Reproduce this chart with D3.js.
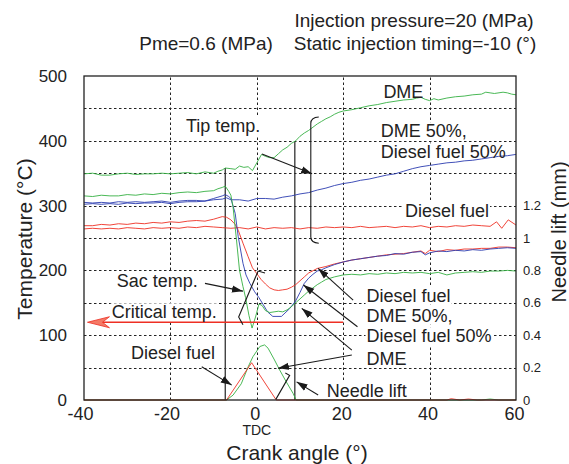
<!DOCTYPE html>
<html>
<head>
<meta charset="utf-8">
<script src="https://cdn.jsdelivr.net/npm/d3@7"></script>
<style>
  body { margin: 0; background: #fff; }
  svg { display: block; font-family: "Liberation Sans", Arial, Helvetica, sans-serif; }
</style>
</head>
<body>
<svg id="chart" width="569" height="464"></svg>
<script>
// Temperatures (°C) against crank angle (°)
const dmeTip = [[-40,349],[-38,350],[-36,347],[-34,347],[-32,349],[-30,350],[-28,348],[-26,349],[-24,349],[-22,350],[-20,349],[-18,350],[-16,351],[-14,349],[-12,352],[-10,350],[-9,353],[-8,355],[-7.3,358],[-6,357],[-5,356],[-4,361],[-3,359],[-2,360],[-1,354],[0,366],[1.1,379],[2,376],[3,374],[4,374],[5,380],[6,386],[7,390],[8,396],[9,400],[10,407],[11,412],[12,416],[13,421],[14,426],[15,430],[16,434],[17,437],[18,441],[19,444],[20,446],[22,448],[24,451],[26,454],[28,456],[30,459],[32,461],[34,463],[36,464],[37,466],[38,467],[39,464],[40,462],[41,465],[42,463],[44,466],[46,468],[48,469],[50,471],[52,472],[53,475],[54,474],[55,473],[57,475],[58,474],[59,472],[60,471]];
const dmeSac = [[-40,315],[-38,314],[-36,316],[-34,315],[-32,315],[-30,317],[-28,316],[-26,318],[-24,317],[-22,319],[-20,318],[-18,320],[-16,321],[-14,320],[-12,322],[-10,323],[-9,326],[-8,328],[-7.3,330],[-6.5,322],[-6,316],[-5.5,298],[-4.7,247],[-4,200],[-3.2,175],[-2.6,158],[-1.8,130],[-1.1,111],[-0.3,128],[0.5,148],[1.2,146],[2,138],[3,135],[4,136],[5,137],[6,136],[7,139],[8,144],[9,150],[10,156],[11,162],[12,168],[13,173],[14,178],[15,182],[16,186],[17,188],[18,190],[20,193],[22,194],[24,193],[26,195],[28,194],[30,196],[32,195],[34,197],[36,196],[38,197],[40,195],[42,197],[44,193],[46,196],[48,197],[50,198],[52,197],[54,199],[56,199],[58,200],[60,199]];
const mixTip = [[-40,305],[-38,304],[-36,305],[-34,304],[-32,306],[-30,305],[-28,306],[-26,305],[-24,306],[-22,307],[-20,305],[-18,307],[-16,308],[-14,308],[-12,307],[-10,309],[-8,310],[-7,312],[-6,309],[-4,309],[-2,307],[0,311],[2,311],[4,310],[6,313],[8,315],[10,318],[12,320],[14,324],[16,327],[18,331],[20,334],[22,336],[24,339],[26,341],[28,344],[30,347],[32,349],[34,353],[36,357],[38,360],[40,362],[42,364],[44,366],[46,367],[48,369],[50,370],[52,372],[54,374],[56,376],[58,377],[60,379]];
const mixSac = [[-40,302],[-38,303],[-36,302],[-34,303],[-32,302],[-30,304],[-28,303],[-26,304],[-24,304],[-22,305],[-20,303],[-18,305],[-16,306],[-14,306],[-12,307],[-10,311],[-9,313],[-8,315],[-7.3,317],[-6.5,314],[-6,311],[-5,288],[-4.3,252],[-3.2,211],[-2.5,193],[-1.6,180],[-0.5,167],[0.5,158],[1.5,147],[2.5,136],[3.7,129],[5.7,129],[7.6,141],[9,153],[10,166],[11,180],[12,188],[13,194],[14,199],[15,201],[16,204],[18,209],[20,213],[22,216],[24,218],[26,220],[28,222],[30,223],[32,226],[34,225],[36,228],[38,229],[39,224],[40,227],[42,230],[44,229],[46,231],[48,230],[50,232],[52,231],[54,233],[56,234],[58,235],[60,234]];
const dieselTip = [[-40,264],[-38,265],[-36,264],[-34,265],[-32,264],[-30,266],[-28,265],[-26,264],[-24,266],[-22,265],[-20,266],[-18,265],[-16,267],[-14,266],[-12,268],[-10,267],[-8,266],[-6,265],[-4,266],[-2,264],[0,267],[2,264],[4,266],[6,265],[8,266],[10,264],[12,266],[14,265],[16,267],[18,266],[20,267],[22,266],[24,268],[26,266],[28,267],[30,268],[32,266],[34,268],[36,267],[38,269],[40,266],[42,268],[44,267],[46,269],[48,268],[50,270],[52,269],[54,268],[55.5,275],[56.7,265],[58.2,278],[60,270]];
const dieselSac = [[-40,269],[-38,269],[-36,271],[-34,270],[-32,272],[-30,271],[-28,273],[-26,272],[-24,274],[-22,273],[-20,275],[-18,274],[-16,276],[-14,277],[-12,276],[-10,279],[-9,281],[-8,283],[-7,282],[-6,278],[-5,271],[-4.3,262],[-3.2,242],[-2,221],[-1,204],[0,195],[1,186],[2,179],[3,173],[4,170],[5,169],[6,170],[7,171],[8,174],[9,178],[10,184],[11,190],[12,196],[14,203],[16,206],[18,210],[20,213],[22,216],[24,218],[26,220],[28,222],[30,224],[32,225],[34,226],[36,228],[38,230],[39,226],[40,231],[42,229],[44,232],[46,231],[48,233],[50,233],[52,234],[54,234],[56,236],[58,236],[60,235]];

// Needle lift (mm) against crank angle (°)
const dieselLift = [[-40,0],[-7,0],[-1.2,0.23],[4.5,0],[44,0],[45,0.008],[47,0],[49,0.006],[51,0],[60,0]];
const dmeLift = [[-40,0],[-7,0],[-5.5,0.03],[-3.6,0.10],[-2,0.205],[-0.9,0.267],[0.7,0.33],[1.8,0.34],[2.6,0.32],[4.1,0.247],[5.3,0.185],[6.8,0.113],[8.4,0.041],[9.1,0],[52,0],[54,0.006],[56,0],[60,0]];

const criticalTemp = 120;
const criticalSpan = [-39.2, 20];
// start / end of injection, marked down from the tip temperature
const injectionMarks = [[-7.3, 358], [8.8, 398]];

const xTicks = [-40, -20, 0, 20, 40, 60];
const yTicks = [0, 100, 200, 300, 400, 500];
const liftTicks = [0, 0.2, 0.4, 0.6, 0.8, 1, 1.2];
const gridY = [50, 100, 150, 200, 250, 300, 350, 400, 450];
const gridX = [-20, 0, 20, 40];

// annotation text: [label, angle, temperature] (left edge, baseline)
const labels = [
  ["Tip temp.", -16.4, 413.6],
  ["Sac temp.", -32.4, 174.8],
  ["Critical temp.", -33.6, 126],
  ["Diesel fuel", -29.1, 63.3],
  ["Needle lift", 16.2, 5.1],
  ["Diesel fuel", 25.4, 151.7],
  ["DME 50%,", 25.4, 120.8],
  ["Diesel fuel 50%", 25.4, 89],
  ["DME", 25.4, 54],
  ["DME", 29.3, 465.6],
  ["DME 50%,", 28.7, 405.4],
  ["Diesel fuel 50%", 28.7, 373],
  ["Diesel fuel", 34.3, 282.9]
];
// arrows: [from angle, from temp, to angle, to temp]
const arrows = [
  [1.2, 379.6, 12.8, 349],
  [-12, 180, -3.2, 168],
  [-12.75, 51.4, -5.8, 23],
  [14.2, 7.7, 9.2, 28],
  [22.3, 154, 14.2, 203],
  [23.3, 113, 10.8, 177.5],
  [22, 77, 10.4, 141.5],
  [22, 69.4, 4.9, 49]
];
const sacBracket = [[1.9, 196], [0.3, 199], [-4.2, 128], [-3.2, 116]];
const liftBracket = [[6.6, 41.5], [7.6, 38], [4.4, 1]];

const green = "#36b043", blue = "#2b3cb0", red = "#ee3024";

const svg = d3.select("#chart");
const x = d3.scaleLinear().domain([-40, 60]).range([84, 516]);
const y = d3.scaleLinear().domain([0, 500]).range([400, 76]);
const yLift = d3.scaleLinear().domain([0, 2]).range([400, 76]);

const defs = svg.append("defs");
defs.append("marker")
    .attr("id", "head")
    .attr("viewBox", "0 -4 11 8")
    .attr("refX", 11).attr("refY", 0)
    .attr("markerWidth", 11).attr("markerHeight", 8)
    .attr("markerUnits", "userSpaceOnUse")
    .attr("orient", "auto")
  .append("path")
    .attr("d", "M0,-3.6L11,0L0,3.6Z")
    .attr("fill", "#1a1a1a");

// dotted grid
const grid = svg.append("g").attr("stroke", "#222").attr("stroke-width", 1).attr("stroke-dasharray", "2.5,2.5");
grid.selectAll(".gy").data(gridY).enter().append("line")
    .attr("x1", x(-40)).attr("x2", x(60))
    .attr("y1", d => Math.round(y(d)) + 0.5).attr("y2", d => Math.round(y(d)) + 0.5);
grid.selectAll(".gx").data(gridX).enter().append("line")
    .attr("y1", y(0)).attr("y2", y(500))
    .attr("x1", d => Math.round(x(d)) + 0.5).attr("x2", d => Math.round(x(d)) + 0.5);

const bgLayer = svg.append("g");

// injection markers
svg.append("g").selectAll("line").data(injectionMarks).enter().append("line")
    .attr("x1", d => x(d[0])).attr("x2", d => x(d[0]))
    .attr("y1", d => y(d[1])).attr("y2", y(0))
    .attr("stroke", "#333").attr("stroke-width", 1.3);

const tempLine = d3.line().x(d => x(d[0])).y(d => y(d[1]));
const liftLine = d3.line().x(d => x(d[0])).y(d => yLift(d[1]));

const series = [
  [dieselTip, red], [dieselSac, red],
  [mixTip, blue], [mixSac, blue],
  [dmeTip, green], [dmeSac, green]
];
svg.append("g").selectAll("path").data(series).enter().append("path")
    .attr("d", d => tempLine(d[0]))
    .attr("fill", "none")
    .attr("stroke", d => d[1])
    .attr("stroke-width", 0.9);

svg.append("g").selectAll("path").data([[dmeLift, green], [dieselLift, red]]).enter().append("path")
    .attr("d", d => liftLine(d[0]))
    .attr("fill", "none")
    .attr("stroke", d => d[1])
    .attr("stroke-width", 0.9);

// critical temperature line with its arrow
svg.append("line")
    .attr("x1", x(criticalSpan[0]) + 4).attr("x2", x(criticalSpan[1]))
    .attr("y1", y(criticalTemp)).attr("y2", y(criticalTemp))
    .attr("stroke", red).attr("stroke-width", 1.4);
const tx = x(criticalSpan[0]), ty = y(criticalTemp);
svg.append("path")
    .attr("d", `M${tx},${ty}L${tx + 22},${ty - 5.5}L${tx + 15},${ty}L${tx + 22},${ty + 5.5}Z`)
    .attr("fill", "#f47a66").attr("stroke", red).attr("stroke-width", 0.8);

// annotation arrows and brackets
const ink = svg.append("g").attr("stroke", "#1a1a1a").attr("stroke-width", 1.1).attr("fill", "none");
ink.selectAll("line").data(arrows).enter().append("line")
    .attr("x1", d => x(d[0])).attr("y1", d => y(d[1]))
    .attr("x2", d => x(d[2])).attr("y2", d => y(d[3]))
    .attr("marker-end", "url(#head)");
ink.append("path").attr("d", tempLine(sacBracket));
ink.append("path").attr("d", tempLine(liftBracket));
const bx = x(12.5), hx = x(14.35);
ink.append("path")
    .attr("d", `M${hx},${y(436.7)}Q${bx},${y(436)} ${bx},${y(427)}L${bx},${y(251.5)}Q${bx},${y(242.6)} ${hx},${y(242)}`);

// annotation text on white knock-outs
const textLayer = svg.append("g").attr("font-size", 18).attr("fill", "#222");
labels.forEach(l => {
  const t = textLayer.append("text").attr("x", x(l[1])).attr("y", y(l[2])).text(l[0]);
  const b = t.node().getBBox();
  bgLayer.append("rect")
      .attr("x", b.x - 1).attr("y", b.y + 1)
      .attr("width", b.width + 2).attr("height", b.height - 2)
      .attr("fill", "#fff");
});

// frame
svg.append("rect")
    .attr("x", x(-40)).attr("y", y(500))
    .attr("width", x(60) - x(-40)).attr("height", y(0) - y(500))
    .attr("fill", "none").attr("stroke", "#222").attr("stroke-width", 1.3);

// axes
const left = svg.append("g").attr("transform", `translate(${x(-40)},0)`)
    .call(d3.axisLeft(y).tickValues(yTicks).tickSize(0).tickPadding(17));
left.select(".domain").remove();
left.selectAll("text").attr("font-size", 17).attr("font-family", null).attr("fill", "#222");

const bottom = svg.append("g").attr("transform", `translate(0,${y(0)})`)
    .call(d3.axisBottom(x).tickValues(xTicks).tickSize(0).tickPadding(7).tickFormat(d => String(d)));
bottom.select(".domain").remove();
bottom.selectAll("text").attr("font-size", 18).attr("font-family", null).attr("fill", "#222")
    .attr("dx", d => d < 0 ? -4 : -2);

const right = svg.append("g").attr("transform", `translate(${x(60)},0)`)
    .call(d3.axisRight(yLift).tickValues(liftTicks).tickSize(0).tickPadding(7).tickFormat(d3.format("~g")));
right.select(".domain").remove();
right.selectAll("text").attr("font-size", 13).attr("font-family", null).attr("fill", "#222");

svg.append("text").attr("x", x(0)).attr("y", 435).attr("text-anchor", "middle")
    .attr("font-size", 14).attr("fill", "#222").text("TDC");

svg.append("text").attr("x", 297).attr("y", 460).attr("text-anchor", "middle")
    .attr("font-size", 21).attr("fill", "#222").text("Crank angle (°)");
svg.append("text").attr("transform", "translate(32,239) rotate(-90)").attr("text-anchor", "middle")
    .attr("font-size", 21).attr("fill", "#222").text("Temperature (°C)");
svg.append("text").attr("transform", "translate(566,232) rotate(-90)").attr("text-anchor", "middle")
    .attr("font-size", 20).attr("fill", "#222").text("Needle lift (mm)");

// conditions
svg.append("text").attr("x", 414).attr("y", 27).attr("text-anchor", "middle")
    .attr("font-size", 19).attr("fill", "#222").text("Injection pressure=20 (MPa)");
svg.append("text").attr("x", 415).attr("y", 50).attr("text-anchor", "middle")
    .attr("font-size", 19).attr("fill", "#222").text("Static injection timing=-10 (°)");
svg.append("text").attr("x", 206).attr("y", 50).attr("text-anchor", "middle")
    .attr("font-size", 19).attr("fill", "#222").text("Pme=0.6 (MPa)");
</script>
</body>
</html>
